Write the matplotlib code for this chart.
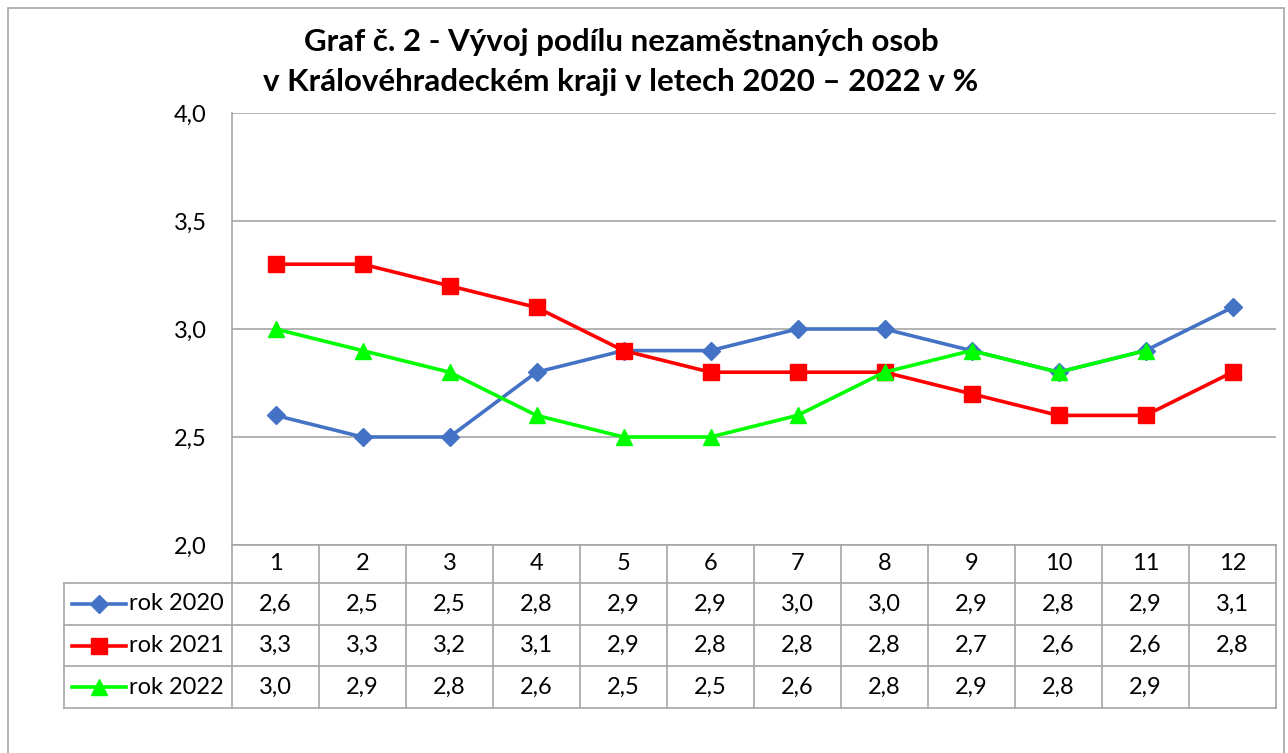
import numpy as np
import matplotlib.pyplot as plt
from matplotlib.patches import Rectangle

# Data
months = list(range(1, 13))
rok_2020 = [2.6, 2.5, 2.5, 2.8, 2.9, 2.9, 3.0, 3.0, 2.9, 2.8, 2.9, 3.1]
rok_2021 = [3.3, 3.3, 3.2, 3.1, 2.9, 2.8, 2.8, 2.8, 2.7, 2.6, 2.6, 2.8]
rok_2022 = [3.0, 2.9, 2.8, 2.6, 2.5, 2.5, 2.6, 2.8, 2.9, 2.8, 2.9, None]
series_names = ["rok 2020", "rok 2021", "rok 2022"]
y_ticks = [2.0, 2.5, 3.0, 3.5, 4.0]

plt.rcParams['font.family'] = ['Lato', 'DejaVu Sans']
FS = 17

W, H = 1288, 753
fig = plt.figure(figsize=(W / 100, H / 100), dpi=100)

# outer frame of the chart
fig.patches.append(Rectangle((8 / W, -0.01), (1284 - 8) / W, (H - 8) / H + 0.01, transform=fig.transFigure,
                             fill=False, edgecolor='#a6a6a6', linewidth=1.2))

# plot area in pixel coordinates
left, right, top, bottom = 232, 1276, 113, 545
ax = fig.add_axes([left / W, 1 - bottom / H, (right - left) / W, (bottom - top) / H])

styles = [
    dict(color='#4472C4', marker='D', markersize=9),
    dict(color='#FF0000', marker='s', markersize=11),
    dict(color='#00FF00', marker='^', markersize=12),
]
data = [rok_2020, rok_2021, rok_2022]

for i in range(3):
    vals = np.array([np.nan if v is None else v for v in data[i]], dtype=float)
    ax.plot(months, vals, linewidth=2.6, clip_on=False, **styles[i])

ax.set_xlim(0.5, 12.5)
ax.set_ylim(2.0, 4.0)
ax.set_yticks(y_ticks)
ax.set_yticklabels([f"{v:.1f}".replace('.', ',') for v in y_ticks], fontsize=FS)
ax.set_xticks([])
ax.tick_params(axis='y', length=0, pad=18)
ax.grid(axis='y', color='#a6a6a6', linewidth=1.2)
ax.set_axisbelow(True)
for s in ['right', 'bottom', 'top']:
    ax.spines[s].set_visible(False)
ax.spines['left'].set_color('#a6a6a6')
ax.spines['left'].set_linewidth(1.2)

# data table below the plot
unit = (right - left) / 12
tbl_left, tbl_bottom = 64, 708
tax = fig.add_axes([tbl_left / W, 1 - tbl_bottom / H, (right - tbl_left) / W, (tbl_bottom - bottom) / H])
x0 = 0.5 - (left - tbl_left) / unit
tax.set_xlim(x0, 12.5)
# rows from top: header, 2020, 2021, 2022 (pixel positions)
row_edges_px = [545, 583, 625, 666, 708]
row_edges = [(708 - p) for p in row_edges_px]
tax.set_ylim(0, 708 - 545)
tax.axis('off')
grid_kw = dict(color='#a6a6a6', linewidth=1.2, clip_on=False)

# horizontal lines
tax.plot([0.5, 12.5], [row_edges[0]] * 2, **grid_kw)
for y in row_edges[1:]:
    tax.plot([x0, 12.5], [y, y], **grid_kw)
# vertical lines
for k in range(13):
    tax.plot([0.5 + k] * 2, [row_edges[4], row_edges[0]], **grid_kw)
tax.plot([x0, x0], [row_edges[4], row_edges[1]], **grid_kw)

# header row
for m in months:
    tax.text(m, (row_edges[0] + row_edges[1]) / 2, str(m), ha='center', va='center', fontsize=FS)

# series rows
for i, name in enumerate(series_names):
    yc = (row_edges[i + 1] + row_edges[i + 2]) / 2
    for m, v in zip(months, data[i]):
        if v is not None:
            tax.text(m, yc, f"{v:.1f}".replace('.', ','), ha='center', va='center', fontsize=FS)
    lx0 = x0 + 8 / unit
    lx1 = x0 + 62 / unit
    tax.plot([lx0, lx1], [yc, yc], color=styles[i]['color'], linewidth=2.6, clip_on=False)
    tax.plot([(lx0 + lx1) / 2], [yc], linestyle='none', clip_on=False, **styles[i])
    tax.text(x0 + 65 / unit, yc, name, ha='left', va='center', fontsize=FS)

fig.text(621 / W, 1 - 42 / H, "Graf č. 2 - Vývoj podílu nezaměstnaných osob",
         ha='center', va='center', fontsize=22.5, fontweight='bold')
fig.text(621 / W, 1 - 82 / H, "v Královéhradeckém kraji v letech 2020 – 2022 v %",
         ha='center', va='center', fontsize=22.5, fontweight='bold')

fig.savefig('out.png', dpi=100)
